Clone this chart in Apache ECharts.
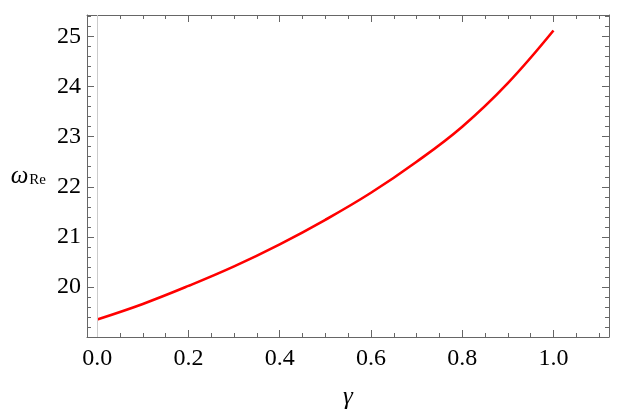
<!DOCTYPE html>
<html>
<head>
<meta charset="utf-8">
<script src="https://cdn.jsdelivr.net/npm/echarts@6/dist/echarts.min.js"></script>
<style>
    html, body { margin: 0; padding: 0; background: #fff; }
    #chart { width: 630px; height: 418px; }
</style>
</head>
<body>
<div id="chart"></div>
<script>
// data
const gammaList = [0, 0.1, 0.2, 0.3, 0.4, 0.5, 0.6, 0.7, 0.8, 0.9, 1.0]
const omegaReList = [19.35, 19.66, 20.02, 20.41, 20.85, 21.34, 21.88, 22.5, 23.2, 24.07, 25.12]
const xTickList = [0, 0.2, 0.4, 0.6, 0.8, 1.0]
const yTickList = [20, 21, 22, 23, 24, 25]
const xRange = [-0.0224, 1.1217]
const yRange = [19.0, 25.43]

// minor ticks
function minorTicks(from, to, step) {
    let arr = []
    for (let v = from; v <= to + 1e-9; v += step) arr.push(Number(v.toFixed(3)))
    return arr
}
const xMinor = minorTicks(0, 1.1, 0.05)
const yMinor = minorTicks(19.2, 25.4, 0.2)

const frameColor = '#666666'
const fontFamily = '"Liberation Serif", "DejaVu Serif", serif'
const gridBox = { left: 87, top: 15, right: 21, bottom: 81, containLabel: false }

// grid 0: frame + major ticks + labels, grid 1: minor ticks only
function frameAxis(gridIndex, position, ticks, len, showLabel, extra) {
    let isX = position === 'bottom' || position === 'top'
    let r = isX ? xRange : yRange
    let axis = {
        type: 'value',
        gridIndex: gridIndex,
        position: position,
        min: r[0],
        max: r[1],
        axisLine: { show: gridIndex === 0, onZero: false, lineStyle: { color: frameColor, width: 1 } },
        axisTick: { show: true, inside: true, length: len, customValues: ticks, lineStyle: { color: frameColor, width: 1 } },
        axisLabel: { show: false },
        splitLine: { show: false },
        minorTick: { show: false },
    }
    if (showLabel) {
        axis.axisLabel = {
            show: true,
            customValues: ticks,
            color: '#000',
            fontFamily: fontFamily,
            fontSize: 24,
            margin: isX ? 10 : 6,
            formatter: (v) => (isX ? v.toFixed(1) : String(v)),
        }
    }
    return Object.assign(axis, extra || {})
}

let myChart = echarts.init(document.getElementById('chart'))
let option = {
    animation: false,
    grid: [Object.assign({}, gridBox), Object.assign({}, gridBox)],
    xAxis: [
        frameAxis(0, 'bottom', xTickList, 7, true, {
            name: 'γ',
            nameLocation: 'middle',
            nameGap: 48,
            nameTextStyle: { fontFamily: fontFamily, fontStyle: 'italic', fontSize: 25, color: '#000' },
        }),
        frameAxis(0, 'top', xTickList, 7, false),
        frameAxis(1, 'bottom', xMinor, 4, false),
        frameAxis(1, 'top', xMinor, 4, false),
    ],
    yAxis: [
        frameAxis(0, 'left', yTickList, 7, true, {
            name: '{w|ω}{s|Re}',
            nameLocation: 'middle',
            nameRotate: 0,
            nameGap: 41,
            nameTextStyle: {
                rich: {
                    w: { fontFamily: fontFamily, fontStyle: 'italic', fontSize: 25, color: '#000', lineHeight: 26 },
                    s: { fontFamily: fontFamily, fontSize: 15, color: '#000', padding: [9, 0, 0, 1], lineHeight: 26 },
                },
            },
        }),
        frameAxis(0, 'right', yTickList, 7, false),
        frameAxis(1, 'left', yMinor, 4, false),
        frameAxis(1, 'right', yMinor, 4, false),
    ],
    series: [
        {
            type: 'line',
            xAxisIndex: 0,
            yAxisIndex: 0,
            data: gammaList.map((g, i) => [g, omegaReList[i]]),
            smooth: 0.4,
            showSymbol: false,
            lineStyle: { color: '#ff0000', width: 2.6 },
            markLine: {
                silent: true,
                symbol: 'none',
                label: { show: false },
                lineStyle: { color: '#cccccc', width: 1, type: 'solid' },
                data: [{ xAxis: 0 }],
            },
        },
    ],
}
myChart.setOption(option)
</script>
</body>
</html>
